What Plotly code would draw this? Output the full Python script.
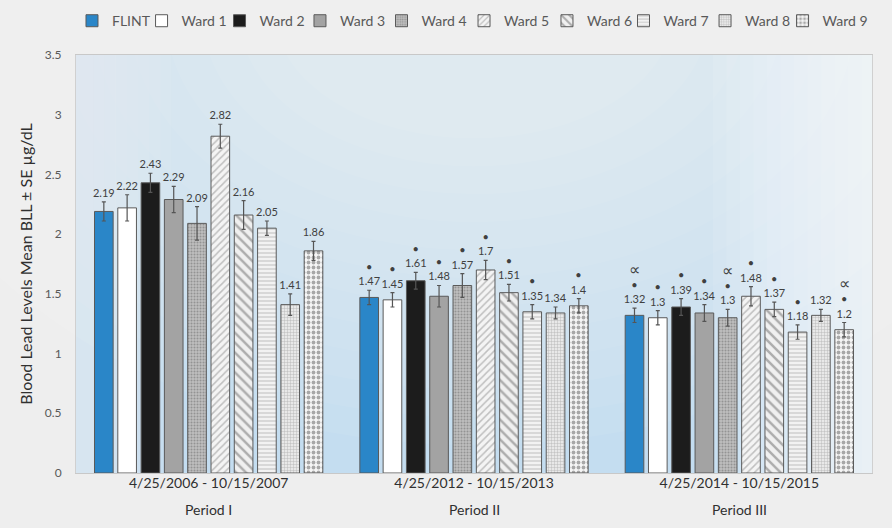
import plotly.graph_objects as go

periods = ["4/25/2006 - 10/15/2007", "4/25/2012 - 10/15/2013", "4/25/2014 - 10/15/2015"]
period_names = ["Period I", "Period II", "Period III"]
series = ["FLINT", "Ward 1", "Ward 2", "Ward 3", "Ward 4", "Ward 5", "Ward 6", "Ward 7", "Ward 8", "Ward 9"]

means = {
    "FLINT":  [2.19, 1.47, 1.32],
    "Ward 1": [2.22, 1.45, 1.30],
    "Ward 2": [2.43, 1.61, 1.39],
    "Ward 3": [2.29, 1.48, 1.34],
    "Ward 4": [2.09, 1.57, 1.30],
    "Ward 5": [2.82, 1.70, 1.48],
    "Ward 6": [2.16, 1.51, 1.37],
    "Ward 7": [2.05, 1.35, 1.18],
    "Ward 8": [1.41, 1.34, 1.32],
    "Ward 9": [1.86, 1.40, 1.20],
}
se = {
    "FLINT":  [0.08, 0.06, 0.06],
    "Ward 1": [0.11, 0.06, 0.06],
    "Ward 2": [0.08, 0.07, 0.07],
    "Ward 3": [0.11, 0.09, 0.07],
    "Ward 4": [0.14, 0.10, 0.07],
    "Ward 5": [0.10, 0.08, 0.08],
    "Ward 6": [0.12, 0.07, 0.06],
    "Ward 7": [0.06, 0.06, 0.06],
    "Ward 8": [0.09, 0.05, 0.05],
    "Ward 9": [0.08, 0.06, 0.06],
}
# significance markers shown above each bar
DOT = "•"
PROP = "<span style='font-size:16px'>∝</span>"
sig = {
    "FLINT":  ["", DOT, PROP + "<br>" + DOT],
    "Ward 1": ["", DOT, DOT],
    "Ward 2": ["", DOT, DOT],
    "Ward 3": ["", DOT, DOT],
    "Ward 4": ["", DOT, PROP + "<br>" + DOT],
    "Ward 5": ["", DOT, DOT],
    "Ward 6": ["", DOT, DOT],
    "Ward 7": ["", DOT, DOT],
    "Ward 8": ["", "", ""],
    "Ward 9": ["", DOT, PROP + "<br>" + DOT],
}

styles = {
    "FLINT":  dict(color="#2a86c8", pattern=dict(shape="")),
    "Ward 1": dict(color="#ffffff", pattern=dict(shape="")),
    "Ward 2": dict(color="#1c1c1c", pattern=dict(shape="")),
    "Ward 3": dict(color="#a3a3a3", pattern=dict(shape="")),
    "Ward 4": dict(color="#bdbdbd", pattern=dict(shape=".", fgcolor="#6a6a6a", size=3, solidity=0.35)),
    "Ward 5": dict(color="#f4f4f4", pattern=dict(shape="/", fgcolor="#8a8a8a", size=5, solidity=0.3)),
    "Ward 6": dict(color="#f0f0f0", pattern=dict(shape="\\", fgcolor="#6a6a6a", size=7, solidity=0.35)),
    "Ward 7": dict(color="#f2f2f2", pattern=dict(shape="-", fgcolor="#9a9a9a", size=4, solidity=0.3)),
    "Ward 8": dict(color="#e8e8e8", pattern=dict(shape="+", fgcolor="#8a8a8a", size=3, solidity=0.3)),
    "Ward 9": dict(color="#f6f6f6", pattern=dict(shape=".", fgcolor="#5a5a5a", size=5, solidity=0.45)),
}
# legend entry left positions (fraction of figure width), one small legend per series
legend_x = [0.0807, 0.1587, 0.2461, 0.3363, 0.4277, 0.5202, 0.6132, 0.6990, 0.7904, 0.8773]

FONT = "Lato, Open Sans, sans-serif"

fig = go.Figure()
for i, s in enumerate(series):
    st = styles[s]
    fig.add_trace(go.Bar(
        name=s, x=periods, y=means[s], offsetgroup=s,
        legend="legend" if i == 0 else "legend%d" % (i + 1),
        marker=dict(color=st["color"], pattern=st["pattern"],
                    line=dict(color="#5a5a5a", width=1)),
        error_y=dict(type="data", array=se[s], visible=True,
                     color="#555555", thickness=1.2, width=2),
    ))
for s in series:
    tops = [m + e for m, e in zip(means[s], se[s])]
    labels = []
    for mk, m in zip(sig[s], means[s]):
        lab = "%g" % m
        labels.append(mk + "<br>" + lab if mk else lab)
    fig.add_trace(go.Bar(
        x=periods, y=tops, offsetgroup=s, showlegend=False, hoverinfo="skip",
        marker=dict(color="rgba(0,0,0,0)", line=dict(width=0)),
        text=labels, textposition="outside", cliponaxis=False,
        constraintext="none",
        textfont=dict(family=FONT, size=11, color="#404040"),
    ))

for p, n in zip(periods, period_names):
    fig.add_annotation(x=p, xref="x", y=-0.088, yref="paper", text=n, showarrow=False,
                       font=dict(family=FONT, size=14, color="#303030"),
                       yanchor="middle")

# soft background glow inside the plot panel (many faint layers for a smooth look)
glow = []
n = 12
for i in range(n):
    f = (i + 1) / n
    rx, ry = 0.8 - 0.55 * f, 1.1 - 0.8 * f
    glow.append(dict(type="circle", xref="x domain", yref="y domain",
                     x0=0.5 - rx, x1=0.5 + rx, y0=1.1 - ry, y1=1.1 + ry,
                     fillcolor="white", opacity=0.06, line=dict(width=0), layer="below"))
for i in range(12):
    x0 = 0.80 + i * 0.017
    glow.append(dict(type="rect", xref="x domain", yref="y domain",
                     x0=x0, x1=1, y0=0, y1=1,
                     fillcolor="white", opacity=0.09, line=dict(width=0), layer="below"))
for i in range(8):
    x1 = 0.12 - i * 0.014
    glow.append(dict(type="rect", xref="x domain", yref="y domain",
                     x0=0, x1=x1, y0=0, y1=1,
                     fillcolor="#f0f0f0", opacity=0.08, line=dict(width=0), layer="below"))

leg_font = dict(family=FONT, size=14, color="#595959")
legends = {}
for i, lx in enumerate(legend_x):
    key = "legend" if i == 0 else "legend%d" % (i + 1)
    legends[key] = dict(orientation="h", xref="container", yref="container",
                        x=lx, xanchor="left", y=0.96, yanchor="middle",
                        font=leg_font, bgcolor="rgba(0,0,0,0)", itemwidth=30)

fig.update_layout(
    width=892, height=528,
    barmode="group", bargap=0.122, bargroupgap=0.2,
    margin=dict(l=76, r=20, t=55, b=55),
    paper_bgcolor="#eeeeee", plot_bgcolor="#c4ddf0",
    font=dict(family=FONT, color="#404040"),
    shapes=glow,
    showlegend=True,
    **legends,
)
fig.update_xaxes(showline=True, mirror=True, linecolor="#c8c8c8", ticks="", automargin=False,
                 tickfont=dict(family=FONT, size=14, color="#303030"), ticklabelstandoff=-3)
fig.update_yaxes(range=[0, 3.5], dtick=0.5, showgrid=False, zeroline=False, ticks="",
                 showline=True, mirror=True, linecolor="#d0d0d0", automargin=False,
                 tickfont=dict(family=FONT, size=12, color="#595959"), ticklabelstandoff=11,
                 title=dict(text="Blood Lead Levels Mean BLL ± SE µg/dL",
                            font=dict(family=FONT, size=16, color="#303030"), standoff=8))

fig.write_html("out.html", config={"displayModeBar": False},
               post_script="document.body.style.margin='0';")
